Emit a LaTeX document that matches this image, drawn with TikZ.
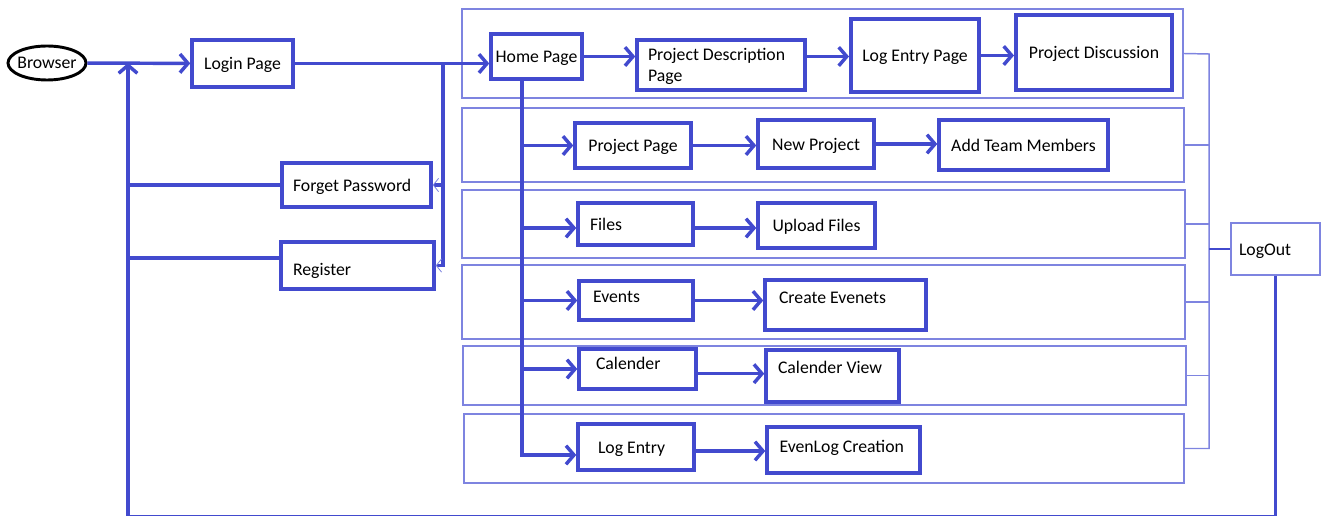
\documentclass[tikz,border=0pt]{standalone}
\usepackage{fontspec}
\setmainfont{Carlito}
\usetikzlibrary{arrows.meta,shapes.geometric}
\definecolor{flowblue}{RGB}{66,74,206}
\definecolor{laneblue}{RGB}{126,132,224}

\begin{document}
\begin{tikzpicture}[x=0.75pt,y=-0.75pt,
  font=\fontsize{13.3}{16}\selectfont,
  b/.style 2 args={draw=flowblue,line width=2.6pt,minimum width=#1*0.75pt,
            minimum height=#2*0.75pt,inner sep=0pt,text height=12.5pt,text depth=3pt},
  lt/.style={text width=#1,align=flush left},
  ln/.style 2 args={draw=laneblue,line width=1.1pt,minimum width=#1*0.75pt,
            minimum height=#2*0.75pt,inner sep=0pt},
  a/.style={draw=flowblue,line width=2.6pt,-{Straight Barb[length=6pt,width=14pt]}},
  af/.style={draw=flowblue,line width=2.6pt,
            -{Straight Barb[length=4pt,width=10pt,line width=0.6pt,color=laneblue]}},
  wire/.style={draw=flowblue,line width=2.6pt},
  bus/.style={draw=laneblue,line width=1.1pt}]
\useasboundingbox (0,0) rectangle (1326,516);
\node[ln={721}{89}] (g1) at (822.5,53.5) {};
\node[ln={722}{74}] (g2) at (823,145) {};
\node[ln={723}{68}] (g3) at (823.5,224) {};
\node[ln={723}{74}] (g4) at (823.5,302) {};
\node[ln={723}{59}] (g5) at (824.5,375.5) {};
\node[ln={720}{69}] (g6) at (824,448.5) {};
\node[draw=black,line width=2.2pt,ellipse,minimum width=58.5pt,minimum height=25.5pt,
      inner xsep=-5pt,inner ysep=0pt] (browser) at (47,63) {Browser};
\node[b={101}{47}] (login) at (242.5,63.5) {Login Page};
\node[b={149}{44},lt=95.25pt] (forget) at (356.5,185) {Forget Password};
\node[b={153}{47},lt=96.75pt,text height=18.5pt] (register) at (357.5,265.5) {Register};
\node[b={91}{45}] (home) at (536.5,56.5) {Home Page};
\node[b={168}{50},lt=109.5pt,text depth=19pt] (pdp) at (721,65) {Project Description\\Page};
\node[b={128}{73},line width=3pt] (lep) at (915,55.5) {Log Entry Page};
\node[b={156}{75},line width=3pt] (pd) at (1094,52.5) {Project Discussion};
\node[b={116}{45}] (projpage) at (633,145.5) {Project Page};
\node[b={116}{48}] (newproj) at (816,144) {New Project};
\node[b={169}{50}] (addteam) at (1023.5,145) {Add Team Members};
\node[b={115}{42},lt=68.25pt] (files) at (635.5,224) {Files};
\node[b={117}{45}] (upload) at (816.5,225.5) {Upload Files};
\node[b={114}{39},lt=64.5pt,text depth=9pt] (events) at (636,300.5) {Events};
\node[b={161}{50},lt=99.75pt,text depth=15pt] (create) at (845.5,305) {Create Evenets};
\node[b={117}{40},lt=62.25pt,text depth=12pt] (cal) at (637.5,369) {Calender};
\node[b={133}{52},lt=81.75pt,text depth=16.5pt] (calview) at (832.5,376) {Calender View};
\node[b={116}{46},lt=57pt] (logentry) at (636,447) {Log Entry};
\node[b={153}{46},lt=96pt,text depth=9pt] (evenlog) at (843.5,450) {EvenLog Creation};
\node[b={89}{52},lt=54.75pt,draw=laneblue,line width=1.1pt] (logout) at (1275.5,249) {LogOut};
\coordinate (jn) at (443,63);
\coordinate (hv) at (522,79);
\coordinate (lpt) at (128,63);
\coordinate (lpb) at (128,516.5);
\coordinate (bt) at (1209,54);
\draw[a] (browser) -- (login);
\draw[a] (login) -- (login -| home.west);
\draw[af] (jn) |- (forget.east);
\draw[af] (jn) |- (register.east);
\draw[wire] (forget.west -| lpt) -- (forget.west);
\draw[wire] ([yshift=5.5pt]register.west -| lpt) -- ([yshift=5.5pt]register.west);
\draw[a] (logout.south) |- (lpb) -- (lpt);
\draw[a] (home.east) -- (home.east -| pdp.west);
\draw[a] (home.east -| pdp.east) -- (home.east -| lep.west);
\draw[a] (lep) -- (lep -| pd.west);
\draw[a] (hv) |- (projpage);
\draw[a] (hv) |- ([yshift=-3pt]files.west);
\draw[a] (hv) |- (events);
\draw[a] (hv) |- (cal);
\draw[a] (hv) |- ([yshift=-6pt]logentry.west);
\draw[a] (projpage) -- (projpage -| newproj.west);
\draw[a] (newproj) -- (newproj -| addteam.west);
\draw[a] ([yshift=-3pt]files.east) -- ([yshift=-3pt]files.east -| upload.west);
\draw[a] (events) -- (events -| create.west);
\draw[a] ([yshift=-3.5pt]cal.east) -- ([yshift=-3.5pt]cal.east -| calview.west);
\draw[a] ([yshift=-3pt]logentry.east) -- ([yshift=-3pt]logentry.east -| evenlog.west);
\draw[bus] (g1.east) -- (bt) -- (bt |- g6.east) -- (g6.east);
\draw[bus] (g2.east) -- (g2.east -| bt);
\draw[bus] (g3.east) -- (g3.east -| bt);
\draw[bus] (g4.east) -- (g4.east -| bt);
\draw[bus] (g5.east) -- (g5.east -| bt);
\draw[wire,line width=1.8pt] (logout.west -| bt) -- (logout.west);
\end{tikzpicture}
\end{document}
